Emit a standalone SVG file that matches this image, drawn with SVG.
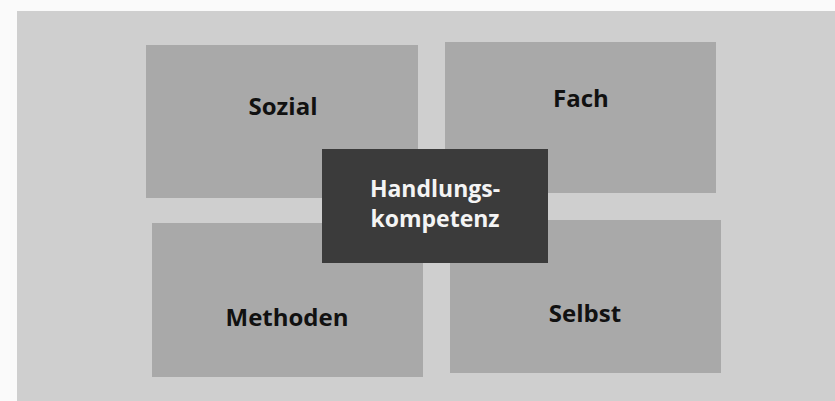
<svg xmlns="http://www.w3.org/2000/svg" width="835" height="401" viewBox="0 0 835 401">
  <style>
    .box { fill: #a9a9a9; }
    .core { fill: #3b3b3b; }
    .lbl { font-family: "Open Sans", "Noto Sans", "Liberation Sans", sans-serif; font-weight: 700; font-size: 24px; fill: #111111; text-anchor: middle; }
    .lbl-core { font-family: "Open Sans", "Noto Sans", "Liberation Sans", sans-serif; font-weight: 700; font-size: 23px; fill: #f4f4f4; text-anchor: middle; }
  </style>
  <defs>
    <filter id="grain" x="0" y="0" width="100%" height="100%">
      <feTurbulence type="fractalNoise" baseFrequency="0.9" numOctaves="2" seed="3" result="n"/>
      <feColorMatrix type="saturate" values="0" in="n" result="g"/>
      <feComponentTransfer in="g" result="a">
        <feFuncA type="linear" slope="0" intercept="0.18"/>
      </feComponentTransfer>
      <feComposite in="a" in2="SourceGraphic" operator="in"/>
    </filter>
  </defs>
  <rect x="0" y="0" width="835" height="401" fill="#fafafa"/>
  <rect id="background" x="17" y="11" width="818" height="390" fill="#cfcfcf"/>

  <g id="connectors"></g>

  <g id="node-sozial">
    <rect class="box" x="146" y="45" width="272" height="153"/>
    <text class="lbl" x="283" y="115">Sozial</text>
  </g>
  <g id="node-fach">
    <rect class="box" x="445" y="42" width="271" height="151"/>
    <text class="lbl" x="581" y="107">Fach</text>
  </g>
  <g id="node-methoden">
    <rect class="box" x="152" y="223" width="271" height="154"/>
    <text class="lbl" x="287" y="326">Methoden</text>
  </g>
  <g id="node-selbst">
    <rect class="box" x="450" y="220" width="271" height="153"/>
    <text class="lbl" x="585" y="322">Selbst</text>
  </g>
  <g id="node-handlungskompetenz">
    <rect class="core" x="322" y="149" width="226" height="114"/>
    <text class="lbl-core" x="435" y="197">Handlungs-</text>
    <text class="lbl-core" x="435" y="227">kompetenz</text>
  </g>
</svg>
